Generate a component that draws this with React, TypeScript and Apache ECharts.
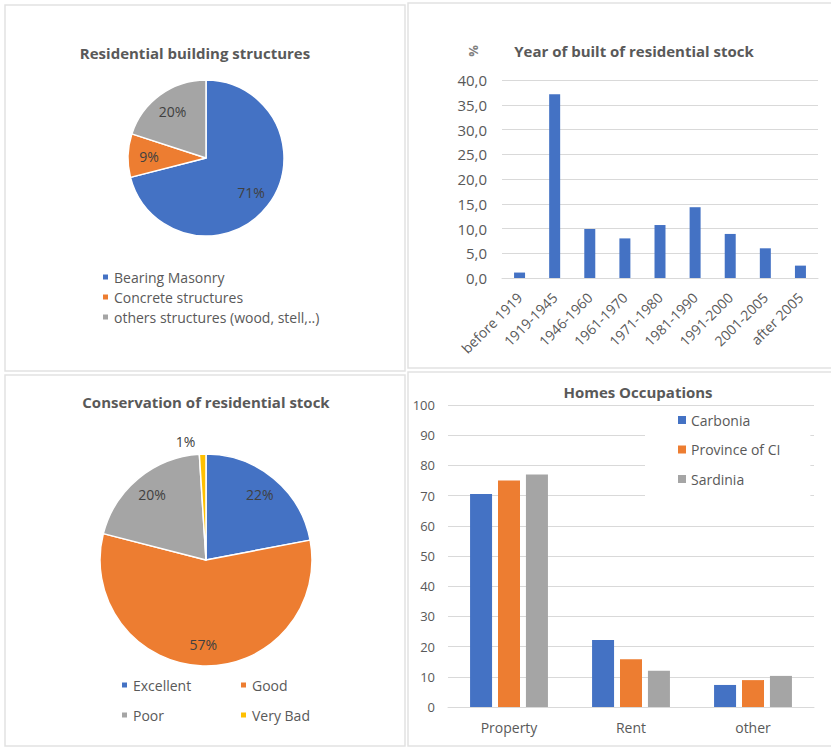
import React, { useEffect, useRef } from "react";
import * as echarts from "echarts";

// ---- Data ----
const structureNames = ["Bearing Masonry", "Concrete structures", "others structures (wood, stell,..)"];
const structureValues = [71, 9, 20];

const periodLabels = ["before 1919", "1919-1945", "1946-1960", "1961-1970", "1971-1980", "1981-1990", "1991-2000", "2001-2005", "after 2005"];
const periodValues = [1.1, 37.1, 9.9, 8.0, 10.7, 14.3, 8.9, 6.0, 2.5];

const conditionNames = ["Excellent", "Good", "Poor", "Very Bad"];
const conditionValues = [22, 57, 20, 1];

const occupationCategories = ["Property", "Rent", "other"];
const occupationSeriesNames = ["Carbonia", "Province of CI", "Sardinia"];
const carboniaValues = [70.5, 22.2, 7.3];
const provinceValues = [75.0, 15.8, 8.9];
const sardiniaValues = [77.0, 12.0, 10.3];

const BLUE = "#4472C4";
const ORANGE = "#ED7D31";
const GRAY = "#A5A5A5";
const YELLOW = "#FFC000";
const TEXT = "#595959";
const GRID = "#d9d9d9";
const FONT = "Open Sans";

const pctLabel = (p: any) => Math.round(p.percent) + "%";

export default function App() {
  const ref = useRef<HTMLDivElement>(null);
  useEffect(() => {
    if (!ref.current) return;
    const chart = echarts.init(ref.current, undefined, { renderer: "svg" });

    const pieColors1 = [BLUE, ORANGE, GRAY];
    const pieColors3 = [BLUE, ORANGE, GRAY, YELLOW];

    const pie1Data = structureNames.map((n, i) => ({ name: n, value: structureValues[i], itemStyle: { color: pieColors1[i] } }));
    const pie3Data = conditionNames.map((n, i) => ({
      name: n,
      value: conditionValues[i],
      itemStyle: { color: pieColors3[i] },
      label: n === "Very Bad" ? { show: true, position: "outside" } : { show: false },
      labelLine: { show: false, length: 13, length2: 2 },
    }));
    const overlay1 = structureNames.map((n, i) => ({ name: n, value: structureValues[i] }));
    const overlay3 = conditionNames.map((n, i) => ({
      name: n,
      value: conditionValues[i],
      label: { show: n !== "Very Bad" },
    }));

    const overlayStyle = {
      itemStyle: { color: "rgba(0,0,0,0)", borderWidth: 0 },
      silent: true,
      labelLine: { show: false },
      emphasis: { disabled: true },
      tooltip: { show: false },
    };

    const panelStyle = { fill: "none", stroke: "#e2e2e2", lineWidth: 1.5 };
    const titleFont = `bold 15px "${FONT}"`;

    const singleLegend = (name: string, left: number, top: number) => ({
      data: [name],
      orient: "horizontal",
      left,
      top,
      icon: "rect",
      itemWidth: 7,
      itemHeight: 7,
      textStyle: { color: TEXT, fontSize: 14, fontFamily: FONT },
      selectedMode: false,
    });

    const option: any = {
      animation: false,
      backgroundColor: "#ffffff",
      textStyle: { fontFamily: FONT },
      graphic: [
        { type: "rect", shape: { x: 5, y: 5, width: 400, height: 366 }, style: panelStyle, silent: true },
        { type: "rect", shape: { x: 408, y: 3, width: 430, height: 365 }, style: panelStyle, silent: true },
        { type: "rect", shape: { x: 5, y: 375, width: 400, height: 371 }, style: panelStyle, silent: true },
        { type: "rect", shape: { x: 408, y: 372, width: 430, height: 374 }, style: panelStyle, silent: true },
        { type: "text", x: 195, y: 53, style: { text: "Residential building structures", fill: TEXT, font: titleFont, textAlign: "center", textVerticalAlign: "middle" } },
        { type: "text", x: 634, y: 51, style: { text: "Year of built of residential stock", fill: TEXT, font: titleFont, textAlign: "center", textVerticalAlign: "middle" } },
        { type: "text", x: 473, y: 51, rotation: Math.PI / 2, style: { text: "%", fill: "#7f7f7f", font: `bold 13px "${FONT}"`, textAlign: "center", textVerticalAlign: "middle" } },
        { type: "text", x: 206, y: 402, style: { text: "Conservation of residential stock", fill: TEXT, font: titleFont, textAlign: "center", textVerticalAlign: "middle" } },
        { type: "text", x: 638, y: 392, style: { text: "Homes Occupations", fill: TEXT, font: titleFont, textAlign: "center", textVerticalAlign: "middle" } },
      ],
      legend: [
        {
          data: structureNames,
          orient: "vertical",
          left: 96,
          top: 265,
          icon: "rect",
          itemWidth: 7,
          itemHeight: 7,
          itemGap: 6,
          textStyle: { color: TEXT, fontSize: 14, fontFamily: FONT, lineHeight: 14 },
          selectedMode: false,
        },
        singleLegend("Excellent", 115, 673),
        singleLegend("Good", 234, 673),
        singleLegend("Poor", 115, 703),
        singleLegend("Very Bad", 234, 703),
        {
          data: occupationSeriesNames,
          orient: "vertical",
          left: 645,
          top: 406,
          padding: [7, 30, 10, 33],
          backgroundColor: "#ffffff",
          icon: "rect",
          itemWidth: 8,
          itemHeight: 8,
          itemGap: 15.5,
          textStyle: { color: TEXT, fontSize: 14, fontFamily: FONT, lineHeight: 14 },
          selectedMode: false,
        },
      ],
      grid: [
        { left: 502, right: 13, top: 80, bottom: 470 },
        { left: 448, right: 17, top: 405, bottom: 41 },
      ],
      xAxis: [
        {
          type: "category",
          gridIndex: 0,
          data: periodLabels,
          axisTick: { show: false },
          axisLine: { lineStyle: { color: GRID } },
          axisLabel: { rotate: 45, interval: 0, color: TEXT, fontSize: 14, fontFamily: FONT, margin: 17 },
        },
        {
          type: "category",
          gridIndex: 1,
          data: occupationCategories,
          axisTick: { show: false },
          axisLine: { lineStyle: { color: GRID } },
          axisLabel: { color: TEXT, fontSize: 14, fontFamily: FONT, margin: 13 },
        },
      ],
      yAxis: [
        {
          type: "value",
          gridIndex: 0,
          min: 0,
          max: 40,
          interval: 5,
          axisLine: { show: false },
          axisTick: { show: false },
          splitLine: { lineStyle: { color: GRID } },
          axisLabel: { color: TEXT, fontSize: 15, fontFamily: FONT, margin: 15, formatter: (v: number) => v.toFixed(1).replace(".", ",") },
        },
        {
          type: "value",
          gridIndex: 1,
          min: 0,
          max: 100,
          interval: 10,
          axisLine: { show: false },
          axisTick: { show: false },
          splitLine: { lineStyle: { color: GRID } },
          axisLabel: { color: TEXT, fontSize: 13, fontFamily: FONT, margin: 13 },
        },
      ],
      series: [
        {
          type: "pie",
          name: "structures",
          center: [206, 158],
          radius: 78,
          startAngle: 90,
          data: pie1Data,
          label: { show: false },
          labelLine: { show: false },
          itemStyle: { borderColor: "#fff", borderWidth: 1.5 },
        },
        {
          type: "pie",
          name: "conservation",
          center: [206, 560],
          radius: 106,
          startAngle: 90,
          data: pie3Data,
          label: { formatter: pctLabel, color: "#404040", fontSize: 14, fontFamily: FONT },
          itemStyle: { borderColor: "#fff", borderWidth: 1.5 },
        },
        {
          type: "pie",
          center: [206, 158],
          radius: 108,
          startAngle: 90,
          data: overlay1,
          label: { show: true, position: "inside", formatter: pctLabel, color: "#404040", fontSize: 14, fontFamily: FONT },
          ...overlayStyle,
        },
        {
          type: "pie",
          center: [206, 560],
          radius: 163,
          startAngle: 90,
          data: overlay3,
          label: { position: "inside", formatter: pctLabel, color: "#404040", fontSize: 14, fontFamily: FONT },
          ...overlayStyle,
        },
        {
          type: "bar",
          xAxisIndex: 0,
          yAxisIndex: 0,
          data: periodValues,
          barWidth: 11,
          itemStyle: { color: BLUE },
        },
        {
          type: "bar",
          name: occupationSeriesNames[0],
          xAxisIndex: 1,
          yAxisIndex: 1,
          data: carboniaValues,
          barWidth: 22,
          barGap: "27%",
          itemStyle: { color: BLUE },
        },
        {
          type: "bar",
          name: occupationSeriesNames[1],
          xAxisIndex: 1,
          yAxisIndex: 1,
          data: provinceValues,
          barWidth: 22,
          barGap: "27%",
          itemStyle: { color: ORANGE },
        },
        {
          type: "bar",
          name: occupationSeriesNames[2],
          xAxisIndex: 1,
          yAxisIndex: 1,
          data: sardiniaValues,
          barWidth: 22,
          barGap: "27%",
          itemStyle: { color: GRAY },
        },
      ],
    };

    chart.setOption(option);
    return () => chart.dispose();
  }, []);

  return (
    <div
      ref={ref}
      style={{ position: "absolute", left: 0, top: 0, width: 831, height: 748, background: "#fff" }}
    />
  );
}
